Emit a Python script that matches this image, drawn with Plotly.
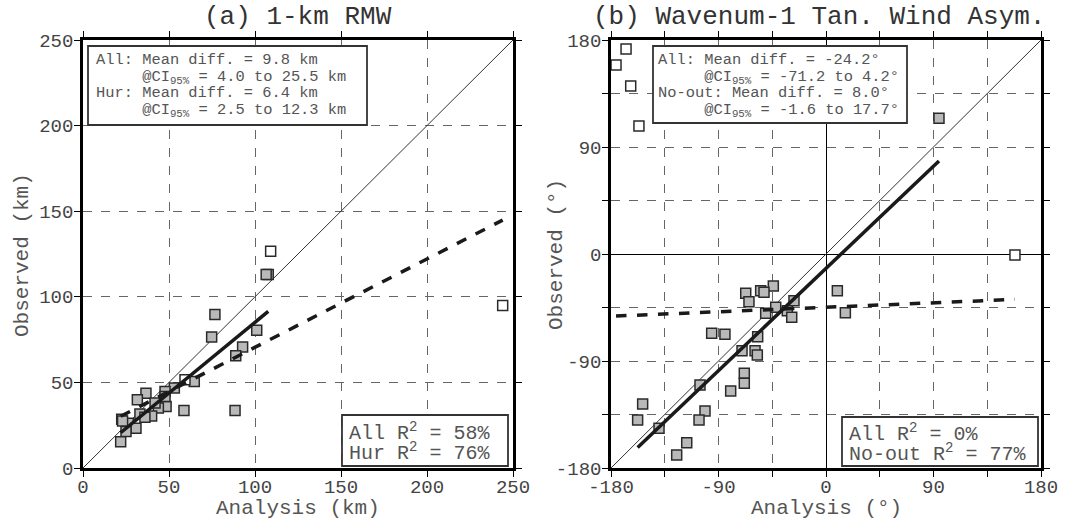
import plotly.graph_objects as go

# ---------------- data ----------------
# Panel (a) 1-km RMW (km)
hur_x = [107.7, 106.5, 76.7, 74.8, 101.0, 92.8, 88.8, 64.7, 53.1, 47.7, 36.6, 31.6, 48.3,
         58.7, 88.4, 43.8, 41.9, 33.1, 39.9, 36.0, 22.5, 26.3, 30.8, 25.0, 21.9, 23.0, 47.7]
hur_y = [113.0, 113.0, 89.6, 76.5, 80.4, 70.7, 65.6, 50.5, 46.7, 44.7, 43.7, 39.8, 35.9,
         33.6, 33.6, 35.0, 37.9, 31.6, 30.4, 29.7, 28.5, 26.2, 23.2, 21.3, 15.4, 27.5, 41.7]
nonhur_x = [109.1, 244.0, 59.3]
nonhur_y = [126.6, 94.9, 51.5]
hur_fit = [2.5, 0.826]      # intercept, slope
all_fit_a = [18.9, 0.516]

# Panel (b) wavenumber-1 tangential wind asymmetry (deg)
noout_x = [9.5, 16.2, -44.1, -54.7, -51.9, -67.2, -64.5, -26.8, -42.1, -50.5, -32.4, -28.7,
           -95.7, -84.6, -57.2, -70.3, -59.4, -57.5, -68.4, -68.4, -79.8, -105.5, -101.3,
           -106.3, -153.5, -157.7, -139.8, -116.6, -125.0, 94.6]
noout_y = [-30.9, -49.4, -26.9, -30.9, -32.2, -33.1, -40.1, -39.3, -44.8, -49.9, -47.7, -53.2,
           -66.7, -67.5, -69.6, -81.3, -81.3, -85.0, -100.3, -108.8, -115.2, -110.2, -132.0,
           -139.6, -126.2, -139.6, -146.6, -158.7, -169.1, 114.1]
out_x = [-167.4, -175.8, -163.5, -156.6, 158.2]
out_y = [172.4, 159.0, 141.3, 107.7, -0.8]
noout_fit = [-12.1, 0.955]
all_fit_b = [-44.8, 0.042]

a_ticks = [0, 50, 100, 150, 200, 250]
b_ticks = [-180, -135, -90, -45, 0, 45, 90, 135, 180]
b_ticktext = ["-180", "", "-90", "", "0", "", "90", "", "180"]

W, H = 1067, 522
FONT = "Liberation Mono, Courier New, monospace"
FILL = "#b9b9b9"
EDGE = "#2a2a2a"
TXT = "#555555"


def px(x):
    return x / W


def py(y):
    return 1 - y / H


def fit_line(coef, xs):
    lo, hi = min(xs), max(xs)
    return [lo, hi], [coef[0] + coef[1] * lo, coef[0] + coef[1] * hi]


fig = go.Figure()

# ---------- panel a ----------
fig.add_trace(go.Scatter(x=[0, 250], y=[0, 250], mode="lines", line=dict(color="#333", width=1),
                         xaxis="x", yaxis="y", showlegend=False))
fig.add_trace(go.Scatter(x=hur_x, y=hur_y, mode="markers",
                         marker=dict(symbol="square", size=10, color=FILL, line=dict(color=EDGE, width=1.5)),
                         xaxis="x", yaxis="y", showlegend=False))
fig.add_trace(go.Scatter(x=nonhur_x, y=nonhur_y, mode="markers",
                         marker=dict(symbol="square", size=10, color="white", line=dict(color=EDGE, width=1.5)),
                         xaxis="x", yaxis="y", showlegend=False))
lx, ly = fit_line(hur_fit, hur_x)
fig.add_trace(go.Scatter(x=lx, y=ly, mode="lines", line=dict(color="#1a1a1a", width=3.5),
                         xaxis="x", yaxis="y", showlegend=False))
lx, ly = fit_line(all_fit_a, hur_x + nonhur_x)
fig.add_trace(go.Scatter(x=lx, y=ly, mode="lines", line=dict(color="#1a1a1a", width=3.5, dash="dash"),
                         xaxis="x", yaxis="y", showlegend=False))

# ---------- panel b ----------
fig.add_trace(go.Scatter(x=[-180, 180], y=[-180, 180], mode="lines", line=dict(color="#333", width=1),
                         xaxis="x2", yaxis="y2", showlegend=False))
fig.add_trace(go.Scatter(x=noout_x, y=noout_y, mode="markers",
                         marker=dict(symbol="square", size=10, color=FILL, line=dict(color=EDGE, width=1.5)),
                         xaxis="x2", yaxis="y2", showlegend=False))
fig.add_trace(go.Scatter(x=out_x, y=out_y, mode="markers",
                         marker=dict(symbol="square", size=10, color="white", line=dict(color=EDGE, width=1.5)),
                         xaxis="x2", yaxis="y2", showlegend=False))
lx, ly = fit_line(noout_fit, noout_x)
fig.add_trace(go.Scatter(x=lx, y=ly, mode="lines", line=dict(color="#1a1a1a", width=3.5),
                         xaxis="x2", yaxis="y2", showlegend=False))
lx, ly = fit_line(all_fit_b, noout_x + out_x)
fig.add_trace(go.Scatter(x=lx, y=ly, mode="lines", line=dict(color="#1a1a1a", width=3.5, dash="dash"),
                         xaxis="x2", yaxis="y2", showlegend=False))

axis_common = dict(showline=True, linecolor="black", linewidth=2.5, mirror="ticks",
                   ticks="outside", ticklen=6, tickwidth=1.2, tickcolor="black",
                   showgrid=True, gridcolor="#666", gridwidth=1, griddash="dash",
                   automargin=False,
                   tickfont=dict(family=FONT, size=19, color="#444"))

ydom = [py(468), py(40)]
fig.update_layout(
    width=W, height=H, margin=dict(l=0, r=0, t=0, b=0),
    plot_bgcolor="white", paper_bgcolor="white",
    xaxis=dict(domain=[px(83), px(513)], range=[0, 250], tickvals=a_ticks, ticklabelstandoff=-7,
               ticktext=[str(v) for v in a_ticks], zeroline=False, anchor="y", **axis_common),
    yaxis=dict(domain=ydom, range=[0, 250], tickvals=a_ticks, ticklabelstandoff=-3,
               ticktext=[str(v) for v in a_ticks], zeroline=False, anchor="x", **axis_common),
    xaxis2=dict(domain=[px(611), px(1041)], range=[-180, 180], tickvals=b_ticks, ticktext=b_ticktext,
                ticklabelstandoff=-7,
                zeroline=True, zerolinecolor="black", zerolinewidth=1.3, anchor="y2", **axis_common),
    yaxis2=dict(domain=ydom, range=[-180, 180], tickvals=b_ticks, ticktext=b_ticktext,
                ticklabelstandoff=-3,
                zeroline=True, zerolinecolor="black", zerolinewidth=1.3, anchor="x2", **axis_common),
)

shapes = []
annotations = []


def box(x0, y0, x1, y1):
    shapes.append(dict(type="rect", xref="paper", yref="paper", x0=px(x0), x1=px(x1),
                       y0=py(y1), y1=py(y0), line=dict(color="#333", width=1.8),
                       fillcolor="white", layer="above"))


def text(x, y, s, size, color=TXT, xanchor="left", angle=0):
    annotations.append(dict(xref="paper", yref="paper", x=px(x), y=py(y), text=s, showarrow=False,
                            xanchor=xanchor, yanchor="middle", textangle=angle,
                            font=dict(family=FONT, size=size, color=color)))


NB = "\u00a0"
ind = NB * 5

# panel a boxes
box(88, 46, 367, 125)
text(94, 60, "All:" + NB + "Mean" + NB + "diff." + NB + "=" + NB + "9.8" + NB + "km", 15.4)
text(94, 77, ind + "@CI<sub>95%</sub>" + NB + "=" + NB + "4.0" + NB + "to" + NB + "25.5" + NB + "km", 15.4)
text(94, 93, "Hur:" + NB + "Mean" + NB + "diff." + NB + "=" + NB + "6.4" + NB + "km", 15.4)
text(94, 110, ind + "@CI<sub>95%</sub>" + NB + "=" + NB + "2.5" + NB + "to" + NB + "12.3" + NB + "km", 15.4)
box(342, 415, 508, 466)
text(347, 432, "All" + NB + "R<sup>2</sup>" + NB + "=" + NB + "58%", 20)
text(347, 452, "Hur" + NB + "R<sup>2</sup>" + NB + "=" + NB + "76%", 20)

# panel b boxes
box(653, 46, 907, 123)
text(656, 60, "All:" + NB + "Mean" + NB + "diff." + NB + "=" + NB + "-24.2°", 15.4)
text(656, 77, ind + "@CI<sub>95%</sub>" + NB + "=" + NB + "-71.2" + NB + "to" + NB + "4.2°", 15.4)
text(656, 93, "No-out:" + NB + "Mean" + NB + "diff." + NB + "=" + NB + "8.0°", 15.4)
text(656, 110, ind + "@CI<sub>95%</sub>" + NB + "=" + NB + "-1.6" + NB + "to" + NB + "17.7°", 15.4)
box(842, 417, 1038, 466)
text(847, 433, "All" + NB + "R<sup>2</sup>" + NB + "=" + NB + "0%", 20)
text(847, 453, "No-out" + NB + "R<sup>2</sup>" + NB + "=" + NB + "77%", 20)

# titles and axis titles
text(298, 17, "(a)" + NB + "1-km" + NB + "RMW", 26, color="#333", xanchor="center")
text(819, 17, "(b)" + NB + "Wavenum-1" + NB + "Tan." + NB + "Wind" + NB + "Asym.", 26, color="#333", xanchor="center")
text(298, 508, "Analysis" + NB + "(km)", 21, color="#555", xanchor="center")
text(826, 508, "Analysis" + NB + "(°)", 21, color="#555", xanchor="center")
text(22, 255, "Observed" + NB + "(km)", 21, color="#555", xanchor="center", angle=-90)
text(556, 255, "Observed" + NB + "(°)", 21, color="#555", xanchor="center", angle=-90)

fig.update_layout(shapes=shapes, annotations=annotations)
fig.write_html("out.html", config={"displayModeBar": False},
               post_script="document.body.style.margin='0';document.body.style.overflow='hidden';")
